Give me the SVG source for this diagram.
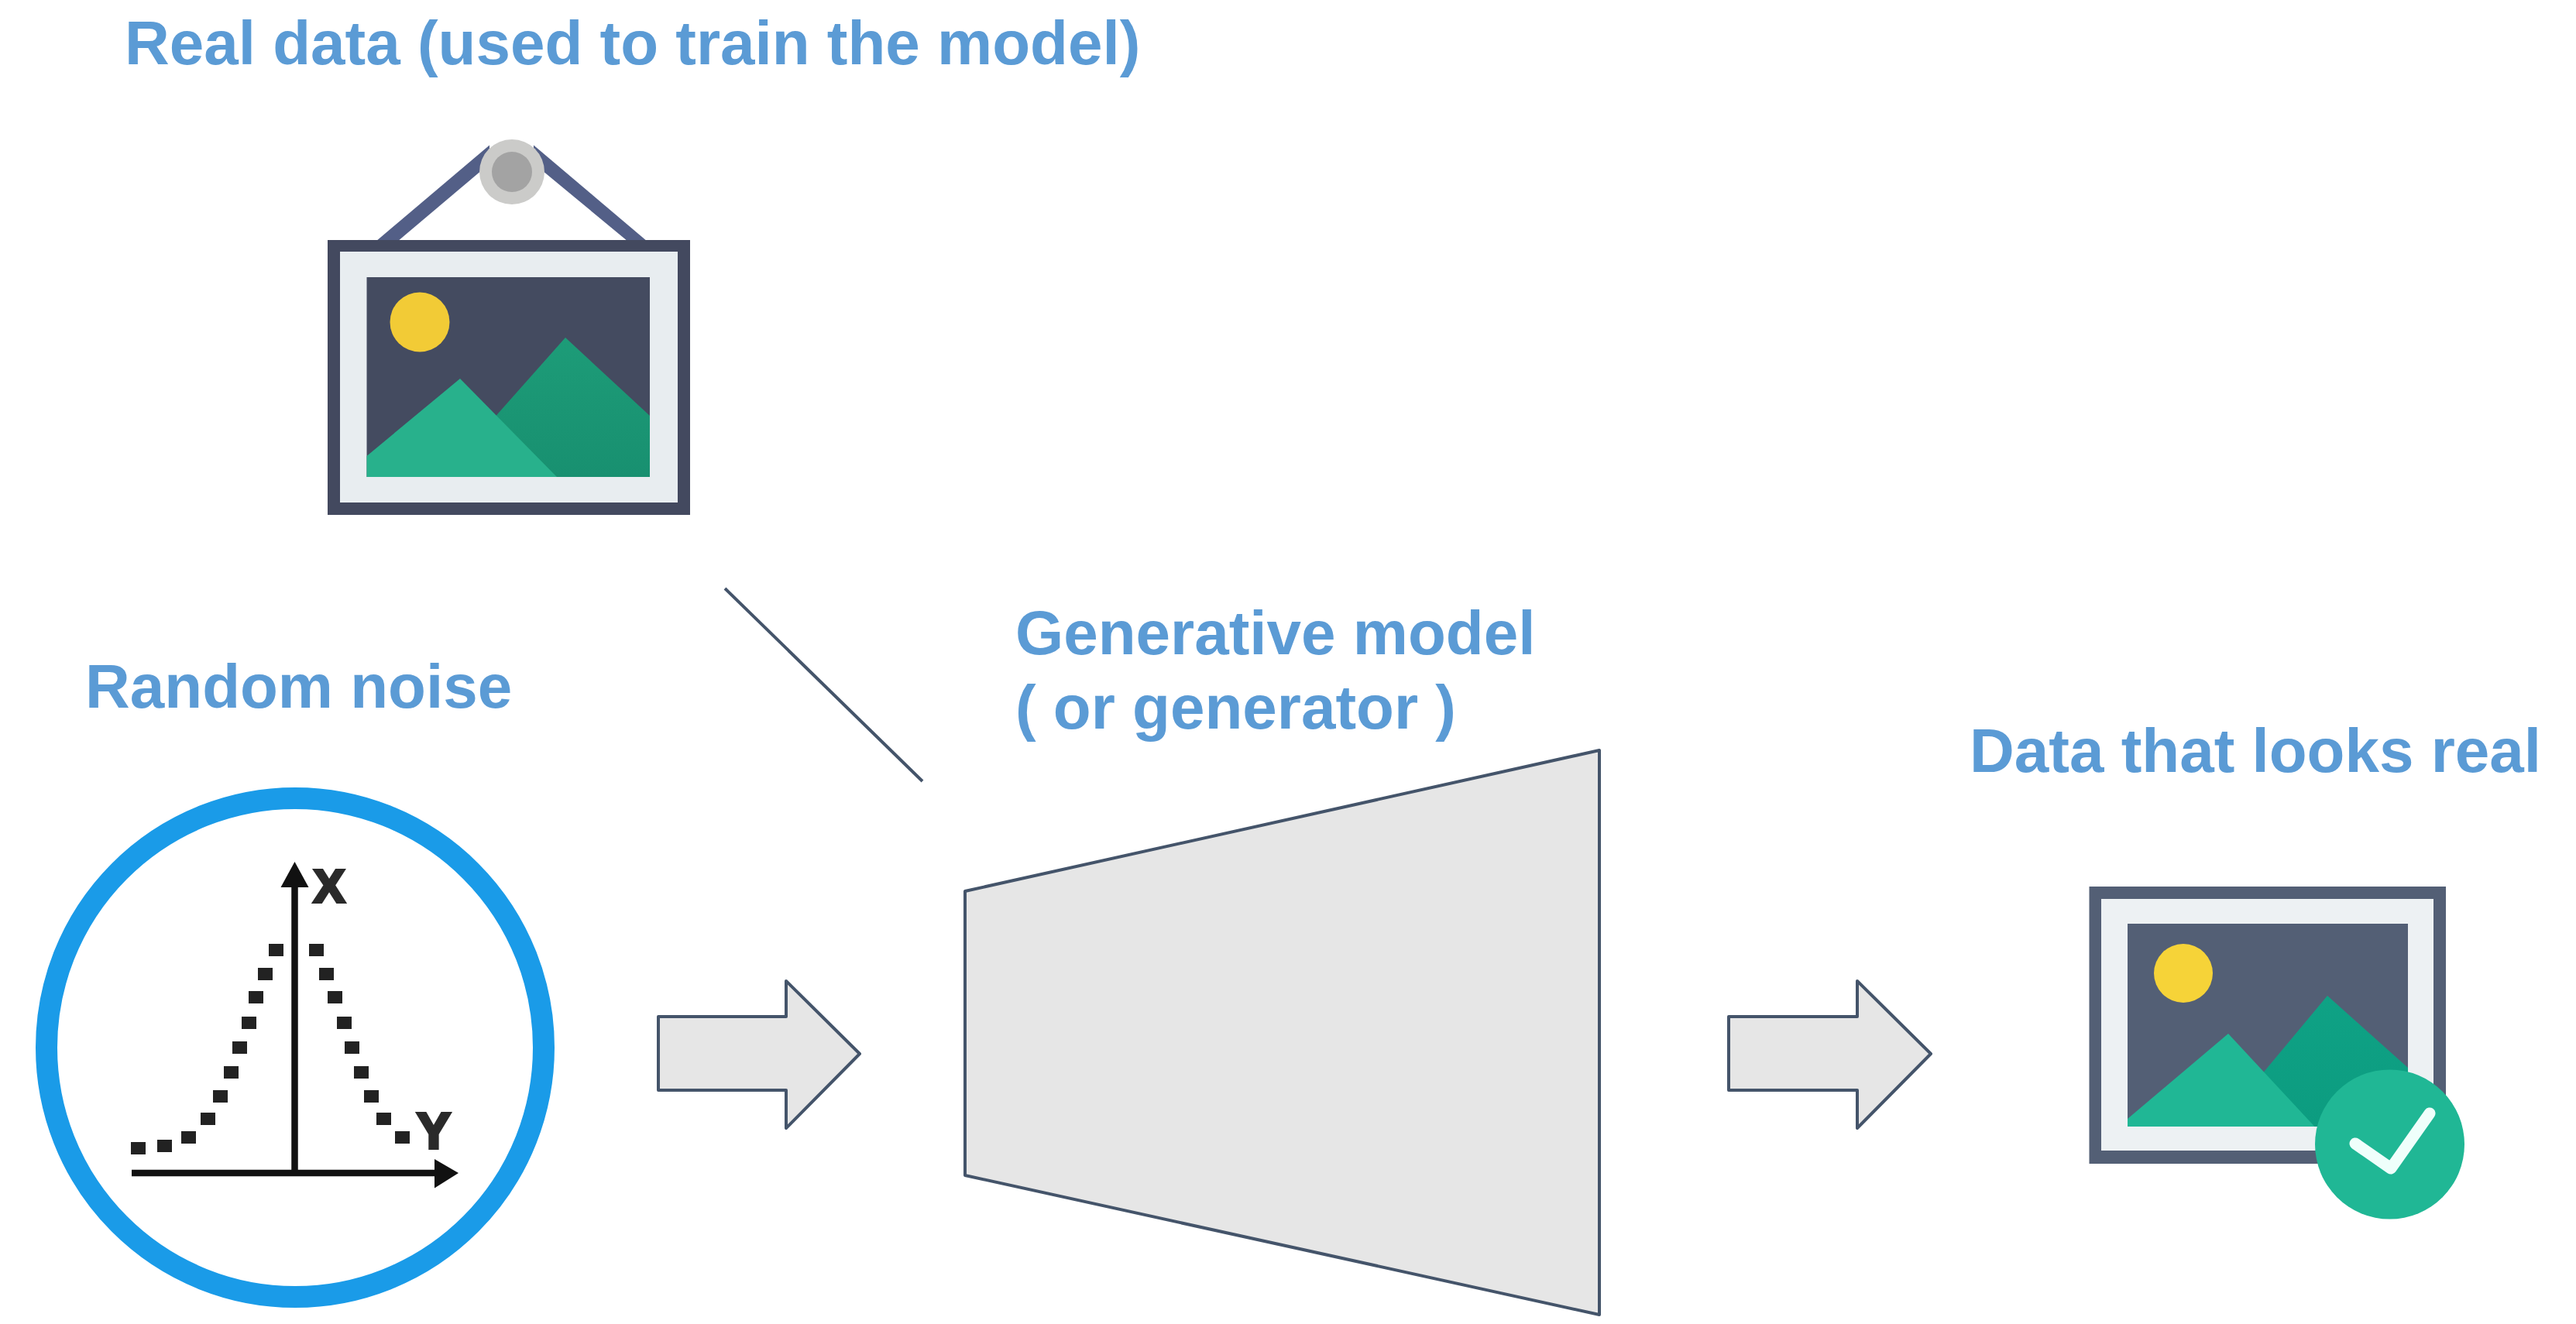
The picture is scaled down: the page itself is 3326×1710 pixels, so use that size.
<svg xmlns="http://www.w3.org/2000/svg" width="3326" height="1710" viewBox="0 0 3326 1710">
<style>
.lbl{font-family:"Liberation Sans",Arial,sans-serif;font-weight:700;font-size:80px;fill:#5b9bd5}
.edge{fill:#e6e6e6;stroke:#44546a;stroke-width:4;stroke-linejoin:round}
.line{fill:none;stroke:#44546a;stroke-width:4}
.dot{fill:#222}
.axis{fill:none;stroke:#111;stroke-width:8.5}
.axtxt{font-family:"Liberation Sans",Arial,sans-serif;font-weight:700;fill:#2a2a2a;stroke:#2a2a2a;stroke-width:4;text-anchor:middle}
</style>
<defs>
<linearGradient id="g1" x1="0" y1="0" x2="0" y2="1"><stop offset="0" stop-color="#1d9c78"/><stop offset="1" stop-color="#189070"/></linearGradient>
<linearGradient id="g2" x1="0" y1="0" x2="0" y2="1"><stop offset="0" stop-color="#0fa285"/><stop offset="1" stop-color="#0c9c80"/></linearGradient>
</defs>
<rect width="3326" height="1710" fill="#fff"/>

<g id="real-data">
<text class="lbl" x="161" y="83">Real data (used to train the model)</text>
<polygon points="485,312 513,312 632,211.5 632,187.5" fill="#535f87"/>
<polygon points="836,312 811,312 689,211 689,187.5" fill="#535f87"/>
<circle cx="661" cy="222" r="42" fill="#cbcbc9"/>
<circle cx="661" cy="222" r="26" fill="#a3a3a3"/>
<rect x="423" y="310" width="468" height="355" fill="#43495f"/>
<rect x="439" y="325" width="436" height="324" fill="#e8edf0"/>
<rect x="473.5" y="358" width="365.5" height="258" fill="#444b60"/>
<circle cx="542" cy="416" r="38.5" fill="#f2cb36"/>
<polygon points="730,436 839,537 839,616 660,616 620,560" fill="url(#g1)"/>
<polygon points="594,489 473.5,589 473.5,616 719,616" fill="#28b18c"/>
</g>

<g id="random-noise">
<text class="lbl" x="110" y="914">Random noise</text>
<ellipse cx="381" cy="1353" rx="321" ry="322" fill="#fff" stroke="#1a9be8" stroke-width="28"/>
<path class="axis" d="M380.5 1140V1515M170 1515H565"/>
<polygon points="380.5,1113 362.5,1146 398.5,1146" fill="#111"/>
<polygon points="592,1515 561,1497 561,1534.5" fill="#111"/>
<text class="axtxt" x="425" y="1165" font-size="60">X</text>
<text class="axtxt" x="560" y="1483" font-size="65">Y</text>
<g class="dot">
<rect x="169" y="1475" width="19" height="16"/><rect x="203" y="1472" width="19" height="16"/><rect x="234" y="1461" width="19" height="16"/><rect x="259" y="1437" width="19" height="16"/><rect x="275" y="1408" width="19" height="16"/><rect x="289" y="1377" width="19" height="16"/><rect x="300" y="1345" width="19" height="16"/><rect x="312" y="1313" width="19" height="16"/><rect x="321" y="1280" width="19" height="16"/><rect x="333" y="1250" width="19" height="16"/><rect x="347" y="1219" width="19" height="16"/>
<rect x="399" y="1219" width="19" height="16"/><rect x="412" y="1250" width="19" height="16"/><rect x="423" y="1280" width="19" height="16"/><rect x="435" y="1313" width="19" height="16"/><rect x="445" y="1345" width="19" height="16"/><rect x="457" y="1377" width="19" height="16"/><rect x="470" y="1408" width="19" height="16"/><rect x="486" y="1437" width="19" height="16"/><rect x="510" y="1461" width="19" height="16"/>
</g>
</g>

<g id="generator">
<text class="lbl" x="1311" y="845">Generative model</text>
<text class="lbl" x="1311" y="941">( or generator )</text>
<polygon class="edge" points="1246,1151 2065,969 2065,1698 1246,1518"/>
</g>

<g id="generated-data">
<text class="lbl" x="2543" y="997">Data that looks real</text>
<rect x="2697.5" y="1145" width="460.5" height="358" fill="#535f75"/>
<rect x="2713" y="1161" width="429" height="325" fill="#edf1f3"/>
<rect x="2747" y="1193" width="362" height="262" fill="#535f75"/>
<circle cx="2819" cy="1257" r="38" fill="#f6d338"/>
<polygon points="3005,1286 3109,1379 3109,1455 2950,1455 2910,1400" fill="url(#g2)"/>
<polygon points="2877,1335 2747,1445 2747,1455 2988.5,1455" fill="#20b795"/>
<circle cx="3085.5" cy="1478" r="96.5" fill="#20b795"/>
<path d="M3041 1477L3087 1509L3137 1438" fill="none" stroke="#effffb" stroke-width="15" stroke-linecap="round" stroke-linejoin="round"/>
</g>

<g id="connectors">
<line class="line" x1="936" y1="760" x2="1191" y2="1009"/>
<polygon class="edge" points="850,1313 1015,1313 1015,1267 1110,1361 1015,1457 1015,1408 850,1408"/>
<polygon class="edge" points="2232,1313 2398,1313 2398,1267 2493,1361 2398,1457 2398,1408 2232,1408"/>
</g>
</svg>
